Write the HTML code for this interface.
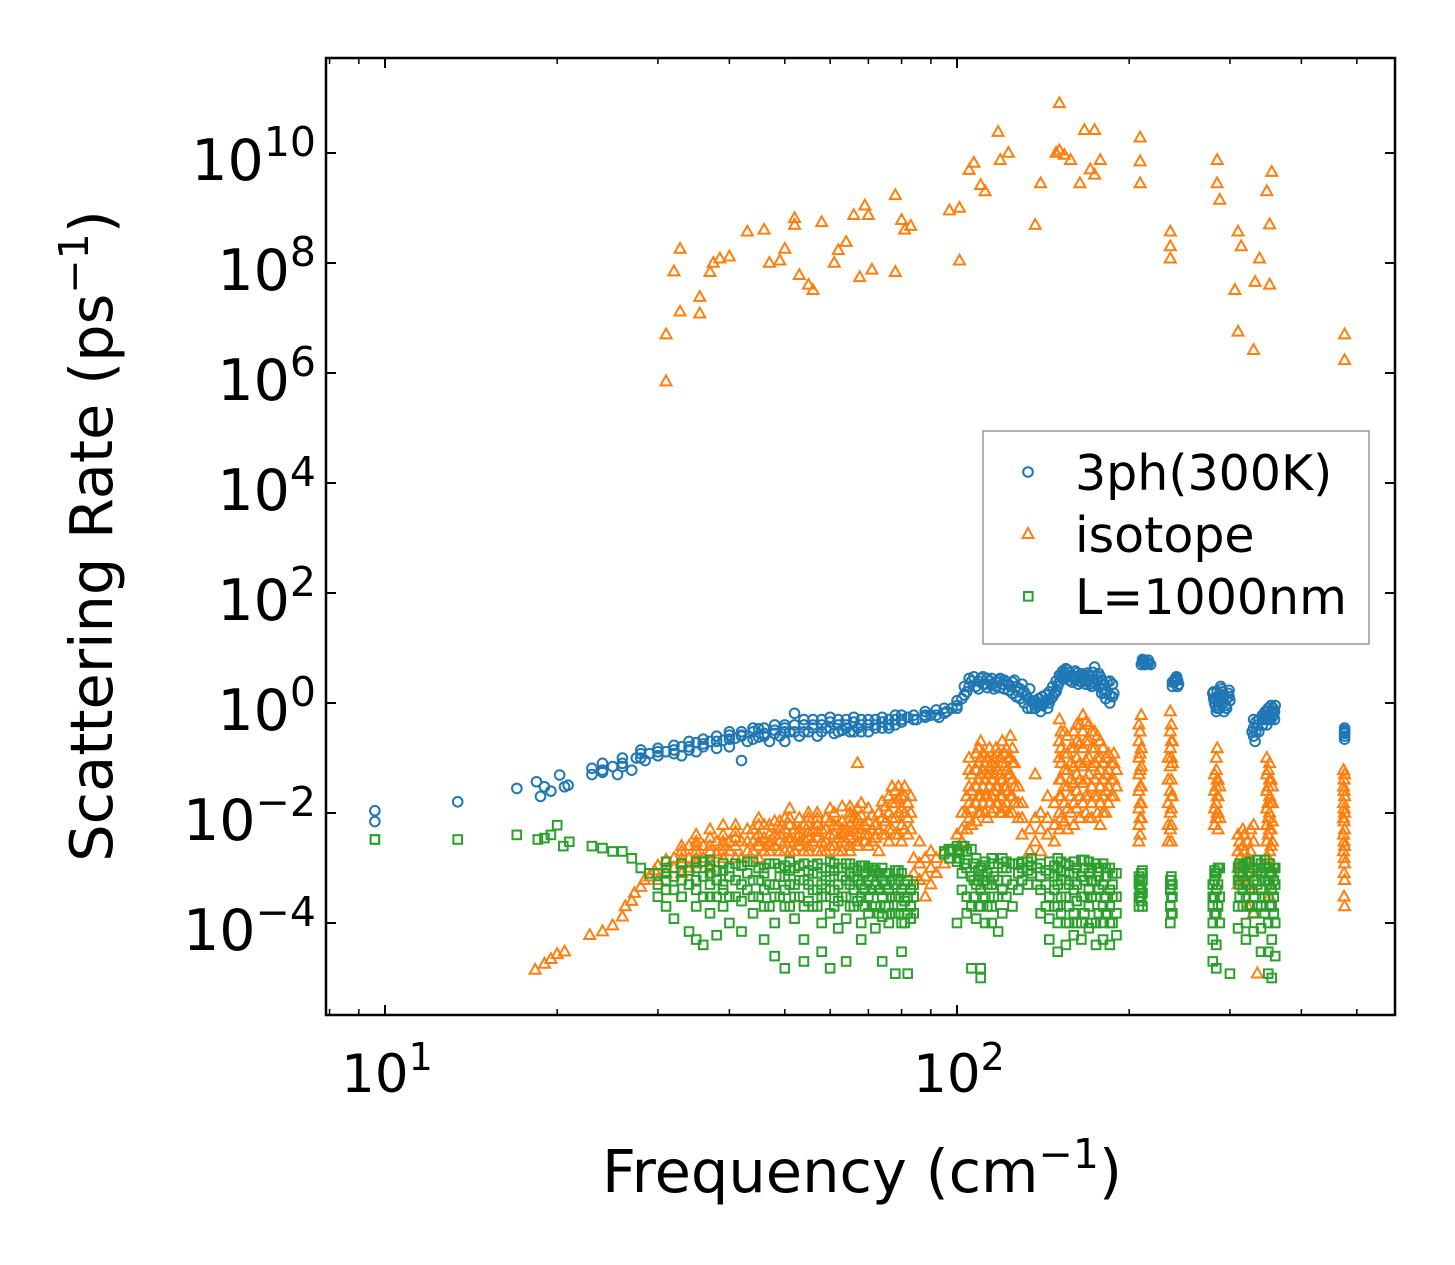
<!DOCTYPE html>
<html><head><meta charset="utf-8"><style>
html,body{margin:0;padding:0;background:#fff;}
svg text{font-family:"DejaVu Sans","Liberation Sans",sans-serif;fill:#000;}
</style></head><body>
<svg id="chart" width="1455" height="1265" viewBox="0 0 1455 1265" xmlns="http://www.w3.org/2000/svg" style="position:absolute;left:0;top:0">
<rect width="1455" height="1265" fill="#fff"/>
<g id="marks"></g>
<g id="axes"></g>
</svg>
<script>
// ---- data ----
const xTickExps = [1, 2];
const yTickExps = [-4, -2, 0, 2, 4, 6, 8, 10];
const xMinorVals = [8, 9, 20, 30, 40, 50, 60, 70, 80, 90, 200, 300, 400, 500];
const seriesNames = ["3ph(300K)", "isotope", "L=1000nm"];

const threephFreq = [9.6,13.4,17,18.4,18.7,19,19.5,20.2,20.6,20.9,23,24,25,25.5,26,27,27.5,28,28.5,29,30,31,32,33,34,35,36,37,38,39,40,41,42,43,44,45,46,47,48,49,50,51,52,53,54,55,56,57,58,59,60,61,62,63,64,65,66,67,68,70,72,74,76,78,80,82,85,88,90,93,96,98,100,102,104,106,107,108,110,112,114,116,118,120,122,124,126,128,130,132,134,136,138,140,142,144,146,148,150,152,154,156,158,160,162,164,166,168,170,172,174,176,178,180,182,185,188,210,212,215,218,240,242,244,280,282,284,286,288,290,292,295,298,300,328,330,332,335,345,348,350,352,355,358,360,476];
const threephRates = [[1.1e-2,7e-3],[1.6e-2],[2.8e-2],[3.7e-2],[2e-2],[3e-2],[2.5e-2],[4.9e-2],[3e-2],[3.2e-2],[5e-2,6.5e-2],[5.5e-2],[7e-2],[5e-2],[8e-2],[6e-2],[0.1],[0.14],[9e-2],[0.12],[0.11,0.15],[0.13],[0.14],[0.11,0.16],[0.14],[0.13,0.19],[0.16],[0.2],[0.15,0.25],[0.21],[0.16,0.3],[0.23],[9e-2,0.26],[0.2],[0.3],[0.24,0.34],[0.28],[0.2],[0.32],[0.25],[0.4,0.2],[0.3],[0.65],[0.25],[0.4],[0.3],[0.5],[0.25],[0.4],[0.35],[0.55],[0.28],[0.4],[0.32],[0.5],[0.3],[0.45],[0.35],[0.3],[0.4],[0.35],[0.45],[0.35],[0.5],[0.45],[0.55],[0.5],[0.55],[0.6],[0.55],[0.7],[0.8],[0.9],[1.2],[1.6],[2.5],[3],[2],[2.8],[2.2],[2.5],[1.8],[2.6],[2.2],[2.4],[2],[2.6],[1.6],[2.2],[1.4],[1.8],[1],[0.9],[0.7],[1],[0.8],[1.2],[1.5],[2],[3],[3.5],[4],[3],[2.8],[3.5],[2.5],[3],[2.2],[3.2],[2],[4.5],[2.5],[3],[1.8],[1.2],[1],[1.5],[5],[6],[5.5],[5],[2.5],[3],[2.2],[1.5],[1],[0.7],[1.3],[0.8],[1.8],[1.2],[0.9],[1.5],[1.1],[0.3],[0.5],[0.2],[0.4],[0.6],[0.4],[0.8],[0.5],[0.7],[0.6],[0.9],[0.35,0.28,0.22,0.25]];
const threephExtraFreq = [24,26,28,30,32,34,36,38,40,42,44,46,48,50,52,54,56,58,60,62,64,66,68,70,72,74,76,78,80,84,88,92,95,100,103,105,109,111,113,115,117,119,121,123,125,127,129,131,133,135,137,139,141,143,145,147,149,151,153,155,157,159,161,163,165,167,169,171,173,175,177,179,181,183,185,187,211,213,216,238,241,243,281,283,285,287,289,291,293,296,299,330,333,337,342,346,349,351,354,357,359,476];
const threephExtraRates = [[0.06,0.08],[0.07,0.1],[0.1,0.12],[0.13],[0.12,0.17],[0.16,0.2],[0.18,0.22],[0.2],[0.22,0.26],[0.25,0.3],[0.22,0.35],[0.25,0.35],[0.28,0.4],[0.3,0.35],[0.3,0.4],[0.3,0.5],[0.35,0.4],[0.3,0.5],[0.35,0.45],[0.3,0.5],[0.35,0.4],[0.3,0.55],[0.4,0.5],[0.3,0.5],[0.4,0.5],[0.35,0.55],[0.4,0.5],[0.4,0.6],[0.5,0.6],[0.5,0.6],[0.6,0.7],[0.6,0.75],[0.65,0.8],[0.8,1.1],[1.4,2],[2,2.8],[2.5,1.8],[2.2,3],[1.9,2.8],[2.2,2.8],[2,2.4],[2.8,1.9],[2.6,1.8],[2.2,1.7],[2.4,1.5],[2,1.3],[1.8,1.2],[1.6,1],[1.2,0.8],[1.1,0.8],[0.8,1.1],[0.9,1.2],[0.9,1.3],[1.1,1.4],[1,1.6],[1.3,2],[1.6,2.5],[2.4,3.2],[2.8,3.8],[3,4.2],[2.6,3.6],[2.4,3.2],[2.6,3.8],[2.2,3],[2.4,3.4],[2.6,3.2],[2.5,3.5],[2.2,3],[2.4,3.6],[2.2,3.2],[2,3.4],[1.5,2.6],[1.5,2.2],[1.6,2.4],[1.4,2.5],[1.3,2.2],[5.5,6.2],[5,5.8],[6,5.2],[2,2.4],[2.6,2.8],[2,2.6],[1.2,1.6],[0.9,1.2],[0.8,1.6],[1,1.4],[1.4,2],[1,1.6],[0.7,1.4],[1.2,0.8],[1.3,1.7],[0.25,0.35],[0.3,0.45],[0.3,0.5],[0.4,0.6],[0.5,0.7],[0.5,0.7],[0.6,0.8],[0.5,0.9],[0.7,0.8],[0.5,0.7],[0.3,0.32]];

const isotopeFreq = [18.3,19,19.5,20,20.6,22.8,24,25,26,26.3,27,27.3,28,28.4,29,29.6,30,31,32,32.8,33,34,35,35.5,36,37,37.5,38,38.5,39,40,41,42,43,44,45,46,47,48,49,50,51,52,53,54,55,56,57,58,60,61,62,63,64,65,66,67,67.6,68,69,70,71,72,74,76,78,80,81,82,83,84,86,88,90,92,95,97,100,101,102,104,105,106,107,108,110,112,114,116,118,119,120,122,123,124,126,128,130,134,137,140,144,148,149,151,154,158,162,164,166,167,170,171,174,178,182,186,190,208,209,210,234,236,238,282,285,288,306,310,314,316,322,330,332,335,338,348,352,355,356,474,476];
const isotopeRates = [[1.4e-5],[1.8e-5],[2.2e-5],[2.7e-5],[3e-5],[6e-5],[7e-5],[9e-5],[1.3e-4],[2e-4],[2.5e-4],[3.5e-4],[4.5e-4],[6e-4],[7e-4],[9e-4],[1.1e-3,6e-4],[7e5,5e6,1.4e-3,8e-4],[7e7,1.5e-3,1e-3],[1.8e8,1.3e7],[2e-3,1.2e-3,8e-4],[2.5e-3,1.5e-3,1e-3],[3e-3,2e-3,1.2e-3],[2.4e7,1.2e7],[2.5e-3,1.5e-3],[6.8e7,3.5e-3,2e-3,1.3e-3],[1e8],[3e-3,1.8e-3],[1.2e8],[4e-3,2.5e-3,1.5e-3],[1.3e8,3e-3,2e-3],[4.5e-3,2.5e-3],[3e-3,1.5e-3],[3.7e8],[5e-3,3e-3,2e-3],[4e-3,2.5e-3,1.5e-3],[4e8,6e-3,3.5e-3,2e-3],[1e8,4e-3,2.5e-3],[7e-3,4e-3,2.5e-3],[1.1e8,5e-3,3e-3],[1.8e8,8e-3,5e-3,3e-3,2e-3],[1.2e-2,6e-3,3.5e-3],[6.5e8,4.9e8,5e-3,3e-3,2e-3],[6e7,4e-3,2.5e-3],[6e-3,3.5e-3,2e-3],[4e7,8e-3,4.5e-3,2.5e-3],[3.2e7,5e-3,3e-3],[1e-2,6e-3,3.5e-3],[5.5e8,5e-3,3e-3,2e-3],[1.2e-2,7e-3,4e-3,2.5e-3],[1e8],[1.7e8,6e-3,3.5e-3,2e-3],[1.3e-2,7e-3,4e-3],[2.4e8,5e-3,3e-3],[1e-2,6e-3,3.5e-3,2e-3],[7.4e8,8e-3,5e-3],[0.08,4e-3,2.5e-3],[5.5e7],[1.5e-2,9e-3,5e-3],[1.1e9],[7.4e8,1.2e-2,7e-3,4e-3,2.5e-3],[7.5e7],[6e-3,3.5e-3],[1.6e-2,8e-3,4e-3],[2e-2,1e-2,5e-3,3e-3],[1.7e9,6.8e7,2.5e-2,1.5e-2,8e-3,4e-3],[6e8,2e-2,1.2e-2,6e-3,3e-3],[4e8],[1.5e-2,8e-3,4e-3],[4.7e8],[1.5e-3,8e-4],[3e-3,1.2e-3,6e-4],[1.5e-3,7e-4,3e-4],[2e-3,1e-3,5e-4],[1.5e-3,8e-4],[2e-3,1.2e-3],[9e8],[4e-3,2e-3],[1e9,1.1e8],[1e-2,5e-3,3e-3],[2e-2,1e-2,5e-3],[4.9e9],[5e-2,2.5e-2,1.2e-2,6e-3],[6.6e9],[0.12,6e-2,3e-2,1.5e-2,7e-3],[2.6e9,0.2,0.1,5e-2,2e-2,1e-2],[2e9,8e-2,4e-2,2e-2,1e-2],[0.15,7e-2,3e-2,1.5e-2],[0.1,5e-2,2.5e-2,1.2e-2],[2.4e10,0.12,6e-2,3e-2,1.5e-2],[7.4e9],[0.2,8e-2,4e-2,2e-2,1e-2],[0.15,6e-2,3e-2,1.5e-2],[1e10],[0.25,0.1,5e-2,2e-2],[8e-2,3e-2,1.5e-2],[3e-2,1.5e-2,8e-3],[1.5e-2,8e-3,4e-3],[5e-3,2e-3],[4.9e8,5e-2,8e-3,3e-3],[2.8e9,1e-2,5e-3,2e-3],[2e-2,8e-3,4e-3],[1.5e-2,6e-3,3e-3],[1e10],[8e10,1.1e10,0.5,0.2,0.1,4e-2,2e-2,1e-2,5e-3],[9.2e9,0.3,0.12,6e-2,3e-2,1.5e-2,7e-3],[7.4e9,0.15,8e-2,4e-2,2e-2,1e-2],[0.4,0.2,0.1,5e-2,2.5e-2,1.2e-2],[2.8e9],[0.6,0.3,0.15,7e-2,3.5e-2,1.5e-2],[2.6e10],[0.4,0.2,0.1,5e-2,2e-2,8e-3],[5e9],[2.6e10,4e9,0.3,0.15,8e-2,4e-2,2e-2],[7.4e9,0.2,0.1,6e-2,3e-2,1.5e-2,6e-3],[0.1,5e-2,2.5e-2,1e-2],[8e-2,4e-2,2e-2],[6e-2,3e-2],[0.4,0.2,0.1,5e-2,2.5e-2,1.2e-2,6e-3,3e-3],[1.9e10,7e9,2.8e9],[0.6,0.15,7e-2,3e-2,1.5e-2,8e-3],[0.1,4e-2,1.5e-2,6e-3,3e-3],[3.7e8,1.2e8,2e8,0.7,0.3,0.15,7e-2,2.5e-2,1e-2,5e-3],[0.2,8e-2,2e-2],[5e-2,2.5e-2,1.2e-2,6e-3],[7.4e9,2.8e9,0.15,4e-2,2e-2,1e-2],[1.4e9,3e-2,8e-3],[3.2e7],[5.6e6,3.7e8,4e-3,2e-3,1e-3,5e-4],[2e8],[5e-3,2.5e-3,1.2e-3,6e-4],[3e-3,1.5e-3,8e-4,2e-4],[2.6e6,6e-3,3e-3,1e-3,4e-4,1.5e-4],[4.5e7],[1.2e-5],[1.2e8],[2e9,0.1,5e-2,2.5e-2,1.2e-2,6e-3,3e-3],[5e8,4e7,8e-2,4e-2,2e-2,1e-2,5e-3,2e-3,8e-4,3e-4],[4.5e9],[3e-2,1.5e-2,7e-3,3e-3,1e-3],[6e-2,3e-2,1.5e-2,8e-3,4e-3,2e-3],[5e6,1.7e6,5e-2,2e-2,1e-2,5e-3,2.5e-3,1.2e-3,6e-4,2e-4]];
const isotopeExtraFreq = [33,35,37,39,41,43,45,47,49,51,53,55,57,59,61,63,65,67,69,71,73,75,77,79,81,83,105,109,111,113,115,117,119,121,123,125,152,156,160,164,168,172,176,180,184,188,209,237,284,286,312,318,326,350,354,475];
const isotopeExtraRates = [[1.5e-3,2.5e-3],[1.5e-3,2.5e-3,4e-3],[1e-3,2.5e-3,5e-3],[2e-3,3e-3,6e-3],[1.5e-3,3.5e-3,6e-3],[2e-3,3e-3,5e-3],[3e-3,6e-3,8e-3],[2e-3,3e-3,6e-3],[2e-3,4e-3,7e-3],[2e-3,3e-3,8e-3],[3e-3,5e-3,8e-3],[2e-3,3.5e-3,6e-3,1e-2],[2e-3,4.5e-3,8e-3],[2e-3,3e-3,5e-3,8e-3],[2.5e-3,4e-3,6e-3,1e-2],[2e-3,3e-3,5e-3],[2.5e-3,4.5e-3,8e-3,1.3e-2],[3e-3,5e-3,8e-3,1.2e-2],[3e-3,4e-3,6e-3],[3e-3,5e-3,9e-3],[2e-3,5e-3,1e-2],[4e-3,7e-3,1.3e-2],[5e-3,8e-3,1.5e-2,3e-2],[4e-3,1e-2,1.8e-2,3e-2],[5e-3,1e-2,2e-2,3e-2],[5e-3,1e-2,2e-2],[8e-3,1.5e-2,3e-2,6e-2,0.1],[1e-2,2e-2,4e-2,8e-2,0.15],[1.5e-2,3e-2,6e-2,0.12],[8e-3,2e-2,5e-2,0.1],[1e-2,2e-2,4e-2,8e-2],[1.5e-2,3e-2,7e-2,0.15],[1e-2,2e-2,5e-2,0.1],[1.2e-2,3e-2,7e-2,0.12],[1e-2,2.5e-2,5e-2,0.1],[1e-2,2e-2,4e-2,8e-2,0.15],[8e-3,2e-2,4e-2,8e-2,0.15,0.3],[5e-3,1.2e-2,3e-2,6e-2,0.12,0.25],[6e-3,1.5e-2,3.5e-2,7e-2,0.15,0.3],[8e-3,2e-2,4e-2,8e-2,0.18,0.4],[1e-2,2e-2,4e-2,9e-2,0.2,0.45],[8e-3,1.5e-2,3e-2,7e-2,0.15,0.3],[1e-2,2e-2,5e-2,0.1,0.25],[1e-2,2e-2,4e-2,8e-2,0.15],[1.5e-2,3e-2,6e-2,0.12],[2e-2,4e-2,8e-2,0.12],[4e-3,8e-3,1.5e-2,3e-2,6e-2,0.12,0.3],[3e-3,6e-3,1.2e-2,2e-2,4e-2,0.1,0.2,0.4],[8e-3,1.5e-2,3e-2,6e-2,0.1],[5e-3,1e-2,2e-2,4e-2],[8e-4,1.5e-3,3e-3],[7e-4,2e-3,4e-3],[5e-4,1e-3,2e-3,5e-3],[1.5e-3,4e-3,8e-3,1.5e-2,3e-2,6e-2],[5e-4,1e-3,2.5e-3,5e-3,1.5e-2,4e-2],[3e-4,8e-4,1.5e-3,3e-3,7e-3,1.2e-2,2.5e-2,4e-2]];

const boundaryFreq = [9.6,13.4,17,18.5,19,19.5,20,20.5,21,23,24,25,26,27,28,29,30,31,32,33,34,35,36,37,38,39,40,42,44,46,48,50,52,54,56,58,60,62,64,66,68,70,72,74,76,78,80,82,84,95,98,100,102,104,106,108,110,112,115,118,120,125,130,135,140,145,150,155,160,165,170,175,180,185,190,208,210,236,238,280,284,288,300,310,320,330,340,350,355,360];
const boundaryRates = [[3.3e-3,3.3e-3],[3.3e-3],[4e-3],[3.3e-3],[3.5e-3],[4e-3],[6e-3],[2.5e-3],[3e-3],[2.5e-3],[2.3e-3],[2e-3],[2e-3],[1.5e-3],[1e-3],[8e-4],[8e-4,5e-4,3e-4],[1e-3,6e-4,2e-4],[7e-4,4e-4,1.2e-4],[1.2e-3,6e-4,3e-4],[9e-4,5e-4,7e-5],[1e-3,4e-4,2e-4,5e-5],[1.3e-3,7e-4,3e-4,4e-5],[1.1e-3,5e-4,1.5e-4],[9e-4,6e-4,3e-4,6e-5],[1.2e-3,4e-4,2e-4],[1e-3,7e-4,3e-4,1e-4],[1.1e-3,5e-4,2.5e-4,7e-5],[1.3e-3,6e-4,3e-4,1.5e-4],[1e-3,8e-4,4e-4,2e-4,5e-5],[1.2e-3,5e-4,3e-4,1e-4,2.5e-5],[1.1e-3,7e-4,4e-4,2e-4,1.5e-5],[1e-3,5e-4,3e-4,1.2e-4],[1.2e-3,6e-4,2e-4,5e-5,2e-5],[1.1e-3,8e-4,4e-4,2e-4],[1e-3,5e-4,3e-4,1e-4,3e-5],[1.3e-3,7e-4,4e-4,1.5e-4,1.5e-5],[1e-3,5e-4,2.5e-4,8e-5],[1.2e-3,6e-4,3e-4,1.2e-4,2e-5],[1e-3,7e-4,4e-4,2e-4],[1.1e-3,5e-4,3e-4,1e-4,5e-5],[1e-3,6e-4,3e-4,1.5e-4],[9e-4,5e-4,2e-4,8e-5],[1e-3,6e-4,3e-4,1.3e-4,2e-5],[8e-4,4e-4,2e-4,1e-4],[9e-4,5e-4,3e-4,1.5e-4,1.2e-5],[8e-4,4e-4,2e-4,1e-4,3e-5],[6e-4,3e-4,1.5e-4,1.2e-5],[5e-4,3e-4,1.5e-4],[2e-3,1.8e-3],[2.2e-3,2e-3],[2.5e-3,1.3e-3,1e-4],[2.5e-3,8e-4,4e-4],[2e-3,1e-3,3e-4,1.5e-4],[2.2e-3,7e-4,2e-4,1.5e-5],[1.5e-3,5e-4,1.2e-4],[1e-3,4e-4,2e-4,1.5e-5,1e-5],[1.3e-3,6e-4,3e-4,1e-4],[1.5e-3,5e-4,2e-4,1e-4],[1.2e-3,6e-4,3e-4,7e-5],[1.5e-3,1e-3,4e-4,1.5e-4],[1.2e-3,5e-4,2e-4],[1.3e-3,1e-3,6e-4],[1.5e-3,1.1e-3,8e-4],[1.2e-3,7e-4,4e-4,1.5e-4],[1.3e-3,8e-4,3e-4,1.2e-4,5e-5],[1.5e-3,1e-3,5e-4,2e-4,1e-4,3e-5],[1.2e-3,6e-4,3e-4,1e-4,4e-5],[1.3e-3,8e-4,4e-4,1.5e-4,6e-5],[1.4e-3,7e-4,3e-4,1e-4,5e-5],[1.3e-3,8e-4,4e-4,2e-4,8e-5],[1.2e-3,6e-4,3e-4,1e-4,4e-5],[1.2e-3,5e-4,2e-4,1e-4,5e-5],[1e-3,4e-4,2e-4,1e-4,4e-5],[8e-4,3e-4,1.5e-4,6e-5],[7e-4,5e-4,3e-4,2e-4],[8e-4,4e-4,2.5e-4],[6e-4,4e-4,2e-4,1e-4],[5e-4,3e-4,1.5e-4],[5e-4,3e-4,2e-4,1e-4,5e-5,2e-5],[8e-4,4e-4,1.5e-4,4e-5,1.5e-5],[1e-3,3e-4,1e-4],[1.2e-5],[1e-3,6e-4,2e-4,8e-5],[1.2e-3,5e-4,3e-4,1e-4,5e-5],[1e-3,6e-4,3e-4,1.5e-4,7e-5],[1.2e-3,8e-4,4e-4,2e-4,8e-5,3e-5],[1e-3,6e-4,3e-4,1e-4,3e-5,1.2e-5],[8e-4,4e-4,2e-4,5e-5,1e-5],[1e-3,5e-4,1e-4,2.5e-5]];
const boundaryExtraFreq = [31,33,35,37,39,41,43,45,47,49,51,53,55,57,59,61,63,65,67,69,71,73,75,77,79,81,83,97,101,103,107,109,111,113,116,122,128,133,138,143,148,152,157,162,167,172,177,182,187,209,211,237,282,286,312,316,325,335,345,352,358];
const boundaryExtraRates = [[4e-4,8e-4,1.3e-3],[3e-4,9e-4],[6e-4,1.3e-3],[3e-4,8e-4,1.4e-3],[5e-4,9e-4],[3e-4,6e-4,1.2e-3],[4e-4,8e-4,1.3e-3],[3e-4,6e-4,1e-3],[2e-4,5e-4,1.2e-3],[3e-4,7e-4,1e-3],[2e-4,5e-4,9e-4,1.3e-3],[3e-4,6e-4,1.1e-3],[2.5e-4,5e-4,9e-4],[2e-4,4e-4,8e-4,1.2e-3],[3e-4,6e-4,1e-3],[2e-4,4e-4,9e-4,1.2e-3],[3e-4,7e-4,1e-3],[2e-4,5e-4,8e-4,1.2e-3],[2.5e-4,6e-4,9e-4],[2e-4,4e-4,8e-4,1.1e-3],[2e-4,4e-4,7e-4,1e-3],[1.5e-4,4e-4,8e-4],[2e-4,5e-4,8e-4],[1.5e-4,3e-4,6e-4],[1.5e-4,3e-4,6e-4,9e-4],[1e-4,2.5e-4,5e-4],[1.2e-4,2e-4,4e-4],[1.5e-3,2.2e-3],[1.5e-3,2e-3],[1.2e-3,2.5e-3],[3e-4,6e-4,1.2e-3],[2e-4,6e-4,9e-4],[3e-4,7e-4,1.1e-3],[2e-4,5e-4,8e-4],[3e-4,7e-4,1.2e-3],[3e-4,6e-4,1e-3,1.3e-3],[4e-4,8e-4,1.2e-3],[5e-4,9e-4,1.3e-3],[5e-4,1e-3],[2e-4,5e-4,9e-4],[2e-4,4e-4,7e-4,1.1e-3],[1.5e-4,3e-4,6e-4,9e-4,1.3e-3],[1e-4,2e-4,5e-4,8e-4,1.1e-3],[1e-4,2.5e-4,5e-4,1e-3],[1.5e-4,3e-4,6e-4,1e-3,1.4e-3],[1e-4,3e-4,6e-4,1e-3],[1.5e-4,4e-4,7e-4,1e-3],[1.5e-4,3e-4,7e-4,1e-3],[1e-4,3e-4,5e-4,8e-4],[3e-4,4.5e-4,6e-4],[2e-4,3.5e-4,6e-4,9e-4],[1.5e-4,3e-4,5e-4,7e-4],[1.5e-4,3e-4,6e-4,9e-4],[2e-4,5e-4,1e-3],[3e-4,5e-4,8e-4,1.2e-3],[2e-4,4e-4,7e-4,1.1e-3],[2e-4,4e-4,8e-4,1.3e-3],[2e-4,5e-4,9e-4,1.4e-3],[1.5e-4,3e-4,6e-4,1e-3,1.4e-3],[2e-4,5e-4,8e-4,1.2e-3],[1.5e-4,3e-4,6e-4,1e-3]];

// ---- layout ----
const L = 326, R = 1395, T = 58, B = 1015;
const xLogMin = 1 - 59/572, xLogMax = 2 + 438/572;
const yLogMax = 10 + 95/55, yLogMin = -4 - 92/55;
const xs = v => L + (Math.log10(v) - xLogMin) / (xLogMax - xLogMin) * (R - L);
const ys = v => B - (Math.log10(v) - yLogMin) / (yLogMax - yLogMin) * (B - T);
const NS = "http://www.w3.org/2000/svg";
const marks = document.getElementById("marks");
const axes = document.getElementById("axes");
function mk(tag, attrs, parent) {
  const e = document.createElementNS(NS, tag);
  for (const k in attrs) e.setAttribute(k, attrs[k]);
  parent.appendChild(e);
  return e;
}
const colors = ["#1f77b4", "#ff7f0e", "#2ca02c"];
function marker(kind, cx, cy, parent) {
  let e;
  if (kind === 0) e = mk("circle", {cx: cx, cy: cy, r: 4.8, fill: "none", stroke: colors[0], "stroke-width": 2}, parent);
  else if (kind === 1) e = mk("polygon", {points: `${cx},${cy-6} ${cx-5.5},${cy+3.8} ${cx+5.5},${cy+3.8}`, fill: "none", stroke: colors[1], "stroke-width": 2}, parent);
  else e = mk("rect", {x: cx-4.3, y: cy-4.3, width: 8.6, height: 8.6, fill: "none", stroke: colors[2], "stroke-width": 2}, parent);
  return e;
}
const clip = mk("clipPath", {id: "pc"}, document.getElementById("chart"));
mk("rect", {x: L, y: T, width: R-L, height: B-T}, clip);
marks.setAttribute("clip-path", "url(#pc)");
const all = [
  [[threephFreq, threephRates], [threephExtraFreq, threephExtraRates], "threeph"],
  [[isotopeFreq, isotopeRates], [isotopeExtraFreq, isotopeExtraRates], "isotope"],
  [[boundaryFreq, boundaryRates], [boundaryExtraFreq, boundaryExtraRates], "boundary"]];
all.forEach((s, si) => {
  const g = mk("g", {}, marks);
  
  
  [s[0], s[1]].forEach(part => {
    part[0].forEach((f, i) => {
      part[1][i].forEach(r => {
        const m = marker(si, xs(f), ys(r), g);
        
        
      });
    });
  });
});

// ---- axes ----
const frame = mk("rect", {x: L, y: T, width: R-L, height: B-T, fill: "none", stroke: "#000", "stroke-width": 2.5}, axes);


xTickExps.forEach(e => {
  const x = xs(Math.pow(10, e));
  mk("line", {x1: x, x2: x, y1: B, y2: B-10, stroke: "#000", "stroke-width": 2}, axes);
  mk("line", {x1: x, x2: x, y1: T, y2: T+10, stroke: "#000", "stroke-width": 2}, axes);
  const t = mk("text", {x: x + 2, y: 1092, "font-size": 53, "text-anchor": "middle"}, axes);
  
  
  const a = mk("tspan", {}, t); a.textContent = "10";
  const b = mk("tspan", {dy: -22, "font-size": 38}, t); b.textContent = String(e);
});
xMinorVals.forEach(v => {
  const x = xs(v);
  mk("line", {x1: x, x2: x, y1: B, y2: B-6, stroke: "#000", "stroke-width": 1.5}, axes);
  mk("line", {x1: x, x2: x, y1: T, y2: T+6, stroke: "#000", "stroke-width": 1.5}, axes);
});
yTickExps.forEach(e => {
  const y = ys(Math.pow(10, e));
  mk("line", {x1: L, x2: L+10, y1: y, y2: y, stroke: "#000", "stroke-width": 2}, axes);
  mk("line", {x1: R, x2: R-10, y1: y, y2: y, stroke: "#000", "stroke-width": 2}, axes);
  const lbl = String(e).replace("-", "\u2212");
  const t = mk("text", {x: 316, y: y + 27, "font-size": 57, "text-anchor": "end"}, axes);
  
  
  const a = mk("tspan", {}, t); a.textContent = "10";
  const b = mk("tspan", {dy: -24, "font-size": 41}, t); b.textContent = lbl;
});
</script>
<svg style="position:absolute;left:0;top:0" width="1455" height="1265">
<text x="862" y="1192" font-size="59" text-anchor="middle" font-family="DejaVu Sans, Liberation Sans, sans-serif">Frequency (cm<tspan dy="-24" font-size="41">−1</tspan><tspan dy="24">)</tspan></text>
<text transform="translate(112,536) rotate(-90)" font-size="59" text-anchor="middle" font-family="DejaVu Sans, Liberation Sans, sans-serif">Scattering Rate (ps<tspan dy="-24" font-size="41">−1</tspan><tspan dy="24">)</tspan></text>
<g>
<rect x="983" y="431" width="386" height="213" fill="#fff" stroke="#999" stroke-width="1.5"/>
<circle cx="1028" cy="472" r="4.8" fill="none" stroke="#1f77b4" stroke-width="2"/>
<text x="1075" y="490" font-size="49" font-family="DejaVu Sans, Liberation Sans, sans-serif">3ph(300K)</text>
<polygon points="1028,528 1022.5,538 1033.5,538" fill="none" stroke="#ff7f0e" stroke-width="2"/>
<text x="1075" y="552" font-size="49" font-family="DejaVu Sans, Liberation Sans, sans-serif">isotope</text>
<rect x="1024" y="592" width="8.6" height="8.6" fill="none" stroke="#2ca02c" stroke-width="2"/>
<text x="1075" y="614" font-size="49" font-family="DejaVu Sans, Liberation Sans, sans-serif">L=1000nm</text>
</g>
</svg>
</body></html>
